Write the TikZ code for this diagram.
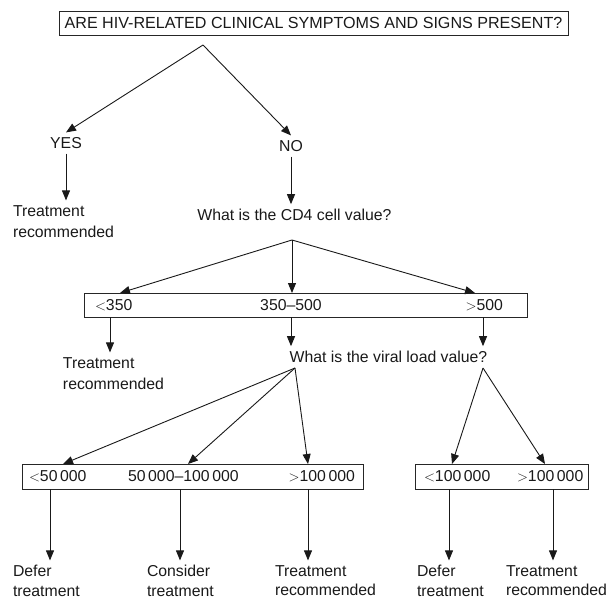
\documentclass[tikz,border=0pt]{standalone}
\usepackage{fontspec}
\setmainfont{Liberation Sans}
\usetikzlibrary{arrows.meta}

\begin{document}
\begin{tikzpicture}[x=1pt,y=-1pt,
  every node/.style={font=\fontsize{15.8}{21}\selectfont,text=black!90},
  txt/.style={inner sep=0pt,outer sep=5pt},
  twoline/.style={txt,align=left,anchor=north west},
  outcome/.style={twoline,font=\fontsize{15.8}{19.5}\selectfont},
  box/.style={draw=black!85,line width=0.9pt,inner sep=0pt,outer sep=0pt},
  arr/.style={draw=black!90,line width=0.9pt,-{Triangle[length=10pt,width=8pt]}}]
\useasboundingbox (0,0) rectangle (606,600);

% question 1
\node [box,minimum width=509pt,minimum height=24pt,font=\fontsize{16.1}{19}\selectfont] (symq) at (313.5,23)
  {ARE HIV-RELATED CLINICAL SYMPTOMS AND SIGNS PRESENT?};
\coordinate (fork1) at (203,45);
\node [txt] (yes) at (66,143) {YES};
\node [txt] (no) at (291,146) {NO};
\node [twoline] (treat1) at (8,200.4) {Treatment\\recommended};
\node [txt] (cdq) at (294.5,215) {What is the CD4 cell value?};

\draw [arr] (fork1) -- (yes.north);
\draw [arr] (fork1) -- (no.north);
\draw [arr] (yes.south) -- (yes.south |- treat1.north);
\draw [arr] (no.south) -- (no.south |- cdq.north);

% CD4 ranges
\coordinate (fork2) at (292,240);
\node [box,minimum width=443pt,minimum height=24pt] (cdbox) at (305.5,305) {};
\node [txt,anchor=west] (cdlow) at (90,305) {$<$350};
\node [txt] (cdmid) at (291,305) {350--500};
\node [txt,anchor=east] (cdhigh) at (508,305) {$>$500};
\node [twoline] (treat2) at (58,352.4) {Treatment\\recommended};
\node [txt] (vlq) at (388.5,357) {What is the viral load value?};

\draw [arr] (fork2) -- ([xshift=36pt]cdbox.north west);
\draw [arr] (fork2) -- (fork2 |- cdbox.north);
\draw [arr] (fork2) -- ([xshift=-52pt]cdbox.north east);
\draw [arr] ([xshift=26pt]cdbox.south west) coordinate (cdl) -- (cdl |- treat2.north);
\draw [arr] (cdmid |- cdbox.south) -- (cdmid |- vlq.north);
\draw [arr] ([xshift=-44pt]cdbox.south east) coordinate (cdh) -- (cdh |- vlq.north);

% viral load ranges
\coordinate (fork3) at (295,368);
\coordinate (fork4) at (483,368);
\node [box,minimum width=341pt,minimum height=25pt] (vlbox1) at (192.5,476.5) {};
\node [box,minimum width=173pt,minimum height=25pt] (vlbox2) at (501.5,476.5) {};
\node [txt,anchor=west] (vllow) at (24,476.5) {$<$50\,000};
\node [txt,anchor=west] (vlmid) at (123,476.5) {50\,000--100\,000};
\node [txt,anchor=east] (vlhigh) at (360,476.5) {$>$100\,000};
\node [txt,anchor=west] (vllowb) at (419,476.5) {$<$100\,000};
\node [txt,anchor=west] (vlhighb) at (512,476.5) {$>$100\,000};

\draw [arr] (fork3) -- ([xshift=41pt]vlbox1.north west);
\draw [arr] (fork3) -- ([xshift=166pt]vlbox1.north west);
\draw [arr] (fork3) -- ([xshift=286pt]vlbox1.north west);
\draw [arr] (fork4) -- ([xshift=37pt]vlbox2.north west);
\draw [arr] (fork4) -- ([xshift=130pt]vlbox2.north west);

% outcomes
\node [outcome] (defer1) at (8,560.4) {Defer\\treatment};
\node [outcome] (consider) at (142,560.4) {Consider\\treatment};
\node [outcome] (treat3) at (270,560.4) {Treatment\\recommended};
\node [outcome] (defer2) at (412,560.4) {Defer\\treatment};
\node [outcome] (treat4) at (501,560.4) {Treatment\\recommended};

\draw [arr] ([xshift=28pt]vlbox1.south west) coordinate (o1) -- (o1 |- defer1.north);
\draw [arr] ([xshift=158pt]vlbox1.south west) coordinate (o2) -- (o2 |- consider.north);
\draw [arr] ([xshift=286pt]vlbox1.south west) coordinate (o3) -- (o3 |- treat3.north);
\draw [arr] ([xshift=34pt]vlbox2.south west) coordinate (o4) -- (o4 |- defer2.north);
\draw [arr] ([xshift=138pt]vlbox2.south west) coordinate (o5) -- (o5 |- treat4.north);
\end{tikzpicture}
\end{document}
